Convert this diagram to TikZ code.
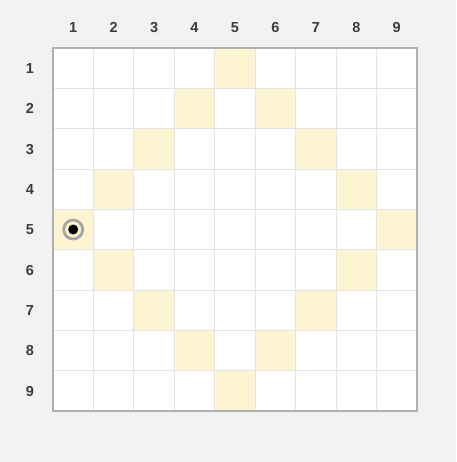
\documentclass[tikz,border=0pt]{standalone}
\usepackage{fontspec}
\setmainfont{Liberation Sans}
\usepackage{xcolor}
\usetikzlibrary{positioning, calc}
\definecolor{bgcolor}{HTML}{F1F2F2}
\definecolor{gridline}{HTML}{E4E4E4}
\definecolor{framecolor}{HTML}{B0B0B0}
\definecolor{hilite}{HTML}{FDF5D2}
\definecolor{labelcolor}{HTML}{3C3C3C}
\definecolor{ringcolor}{HTML}{A8A4A4}

\begin{document}
\begin{tikzpicture}[x=1pt, y=-1pt, every node/.style={font=\bfseries\fontsize{14.5}{16}\selectfont, text=labelcolor, text height=10.5pt, text depth=0pt, inner sep=0pt}]
        % Background
        \fill[bgcolor] (0,0) rectangle (456,462);
        \useasboundingbox (0,0) rectangle (456,462);
        \fill[white] (53,48) rectangle (417,411);
        % Highlighted cells (diamond)
        \foreach \c/\r in {5/1, 4/2, 6/2, 3/3, 7/3, 2/4, 8/4, 1/5, 9/5, 2/6, 8/6, 3/7, 7/7, 4/8, 6/8, 5/9} {
          \fill[hilite] ({53+40.44*(\c-1)},{48+40.33*(\r-1)}) rectangle ++(40.44,40.33);
        }
        % Grid lines
        \foreach \i in {1,...,8} {
          \draw[gridline, line width=0.8pt] ({53+40.44*\i},48) -- ({53+40.44*\i},411);
          \draw[gridline, line width=0.8pt] (53,{48+40.33*\i}) -- (417,{48+40.33*\i});
        }
        \draw[framecolor, line width=2.8pt] (53,48) rectangle (417,411);
        % Column and row numbers
        \foreach \k in {1,...,9} {
          \node (col\k) at ({73.2+40.44*(\k-1)},27) {\k};
          \node (row\k) at (30,{68.2+40.33*(\k-1)}) {\k};
        }
        % Marker in cell (1,5)
        \node[circle, draw=ringcolor, line width=2.8pt, minimum size=19pt, text height=0pt] (ring) at (73.2,229.5) {};
        \fill[black] (ring.center) circle (5);
      \end{tikzpicture}
\end{document}
